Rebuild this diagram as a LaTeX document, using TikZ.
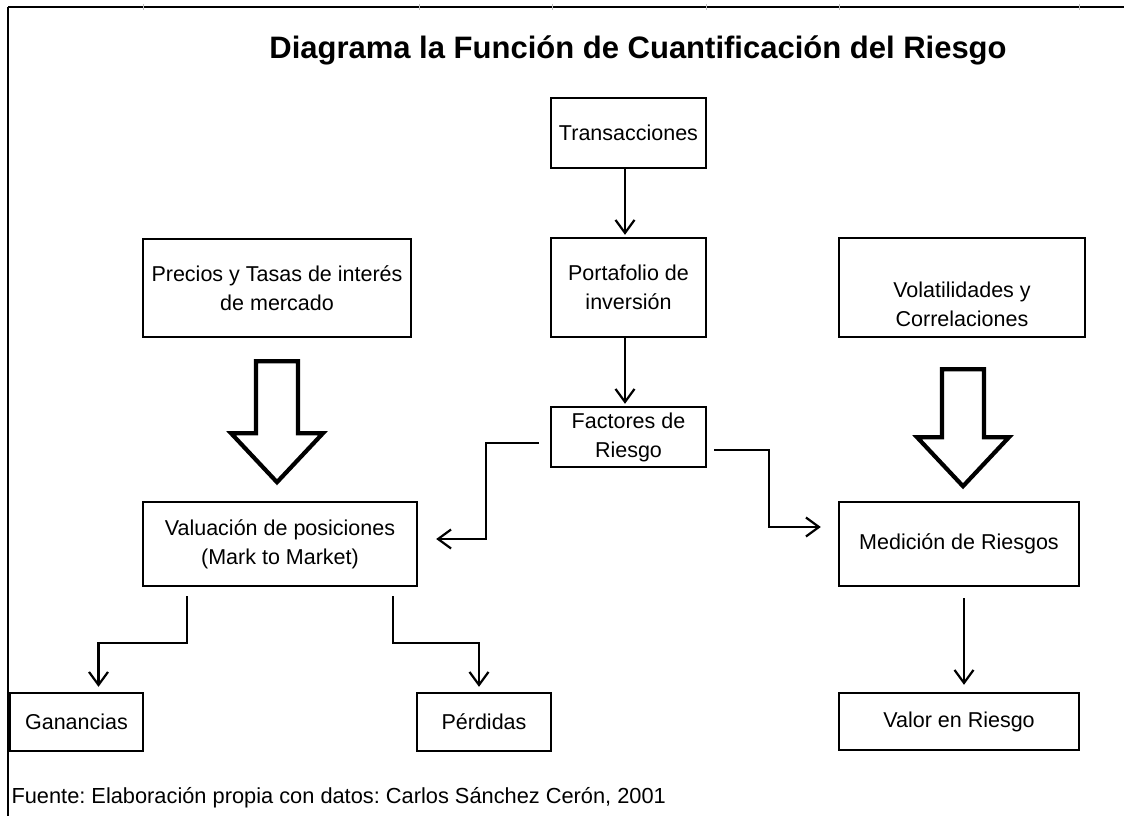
\documentclass[tikz,border=0pt]{standalone}
\usepackage{fontspec}
\setmainfont{Liberation Sans}
\frenchspacing
\usetikzlibrary{arrows.meta}

\tikzset{
    box/.style={draw, line width=2.4pt, align=center, inner sep=0pt,
        font=\fontsize{21.5}{29}\selectfont},
    conn/.style={line width=2.2pt, -{Straight Barb[length=13pt,width=19pt,line width=2.2pt]}},
    bigarrow/.style={line width=4.2pt, fill=white, line join=miter}
}

\begin{document}
\begin{tikzpicture}[x=1pt,y=-1pt]
    \useasboundingbox (0,0) rectangle (1124,816);

    % Sheet border
    \draw[line width=2.5pt] (8,7) -- (1124,7);
    \draw[line width=2.5pt] (8,7) -- (8,816);
    \foreach \x in {143,419,552,706,839,1079}
        \draw[gray!50, line width=1pt] (\x,4) -- (\x,10);

    % Title
    \node[font=\fontsize{31}{36}\selectfont\bfseries] (title) at (638,50)
        {Diagrama la Función de Cuantificación del Riesgo};

    % Boxes
    \node[box, minimum width=155, minimum height=70] (trans) at (628.5,133) {Transacciones};
    \node[box, minimum width=155, minimum height=99] (port) at (628.5,287.5) {Portafolio de\\inversión};
    \node[box, minimum width=268, minimum height=98] (precios) at (277,288) {Precios y Tasas de interés\\de mercado};
    \node[box, minimum width=246, minimum height=99] (vol) at (962,287.5) {\rule{0pt}{50pt}Volatilidades y\\Correlaciones};
    \node[box, minimum width=155, minimum height=60] (fact) at (628.5,437) {Factores de\\Riesgo};
    \node[box, minimum width=274, minimum height=84] (val) at (280,544) {Valuación de posiciones\\(Mark to Market)};
    \node[box, minimum width=240, minimum height=84] (med) at (959,544) {Medición de Riesgos};
    \node[box, minimum width=133, minimum height=58] (gan) at (76.5,722) {Ganancias};
    \node[box, minimum width=134, minimum height=58] (per) at (484,722) {Pérdidas};
    \node[box, minimum width=240, minimum height=57] (valor) at (959,721.5) {Valor en Riesgo};

    % Connectors
    \draw[conn] ([xshift=-3.5pt]trans.south) -- ([xshift=-3.5pt,yshift=2pt]port.north);
    \draw[conn] ([xshift=-3.5pt]port.south) -- ([xshift=-3.5pt,yshift=2pt]fact.north);
    \draw[conn] ([xshift=-11pt,yshift=-6pt]fact.west) -- ++(-53,0) |- ([xshift=18pt,yshift=5pt]val.east);
    \draw[conn] ([xshift=7pt,yshift=-13pt]fact.east) -- ++(55,0) |- ([xshift=-17pt,yshift=17pt]med.west);
    \draw[conn] ([xshift=-93pt,yshift=-9pt]val.south) -- ++(0,47) -| ([xshift=22pt,yshift=5pt]gan.north);
    \draw[conn] ([xshift=113pt,yshift=-9pt]val.south) -- ++(0,47) -| ([xshift=-5pt,yshift=5pt]per.north);
    \draw[conn] ([xshift=5pt,yshift=-11pt]med.south) -- ([xshift=5pt,yshift=7pt]valor.north);

    % Hollow block arrows
    \draw[bigarrow] ([yshift=-23pt]precios.south) ++(-21,0) -- ++(0,72) -- ++(-25,0)
        -- ++(46,49) -- ++(46,-49) -- ++(-25,0) -- ++(0,-72) -- cycle;
    \draw[bigarrow] ([xshift=1pt,yshift=-31pt]vol.south) ++(-21,0) -- ++(0,68) -- ++(-25,0)
        -- ++(46,49) -- ++(46,-49) -- ++(-25,0) -- ++(0,-68) -- cycle;

    % Source
    \node[anchor=west, font=\fontsize{21.8}{26}\selectfont] (fuente) at (8,798)
        {Fuente: Elaboración propia con datos: Carlos Sánchez Cerón, 2001};
\end{tikzpicture}
\end{document}
